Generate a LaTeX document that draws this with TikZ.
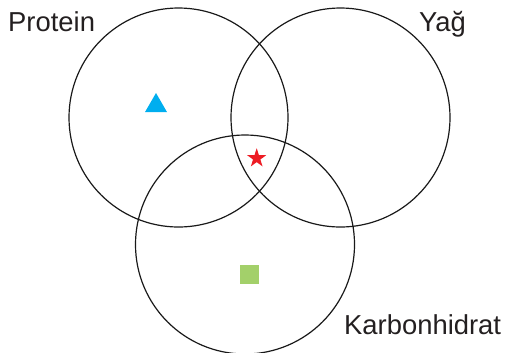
\documentclass[tikz,border=0pt]{standalone}
\usepackage{fontspec}
\setmainfont{Liberation Sans}
\usepackage{xcolor}
\usetikzlibrary{shapes.geometric}
\definecolor{txtgray}{RGB}{35,31,32}
\definecolor{trblue}{RGB}{0,174,239}
\definecolor{stred}{RGB}{237,28,36}
\definecolor{sqgreen}{RGB}{163,208,106}

\begin{document}
\begin{tikzpicture}[
  x=1bp, y=-1bp,
  every node/.style={font=\fontsize{27.5}{31}\selectfont, text=txtgray},
  set/.style={draw=black!90,circle,line width=1.2bp,minimum size=219bp,inner sep=0pt},
  lbl/.style={anchor=base west,inner sep=0pt},
  sym/.style={inner sep=0pt,draw=none}
]
  \useasboundingbox (0,0) rectangle (506,352);
  \node[set] (pro) at (178.5,117.5) {};
  \node[set] (yag) at (340.5,117.5) {};
  \node[set] (karb) at (245,244.5) {};
  \node[lbl] (lpro) at (8,31) {Protein};
  \node[lbl] (lyag) at (419,31) {Yağ};
  \node[lbl] (lkarb) at (344,334) {Karbonhidrat};
  % symbols in the regions
  \node[sym,regular polygon,regular polygon sides=3,fill=trblue,minimum size=25.4bp] (tri) at (156,105.7) {};
  \node[sym,star,star points=5,star point ratio=2.6,fill=stred,minimum size=20bp] (str) at (256.7,158.3) {};
  \node[sym,rectangle,fill=sqgreen,minimum size=19bp] (sq) at (249.5,274.5) {};
\end{tikzpicture}
\end{document}
